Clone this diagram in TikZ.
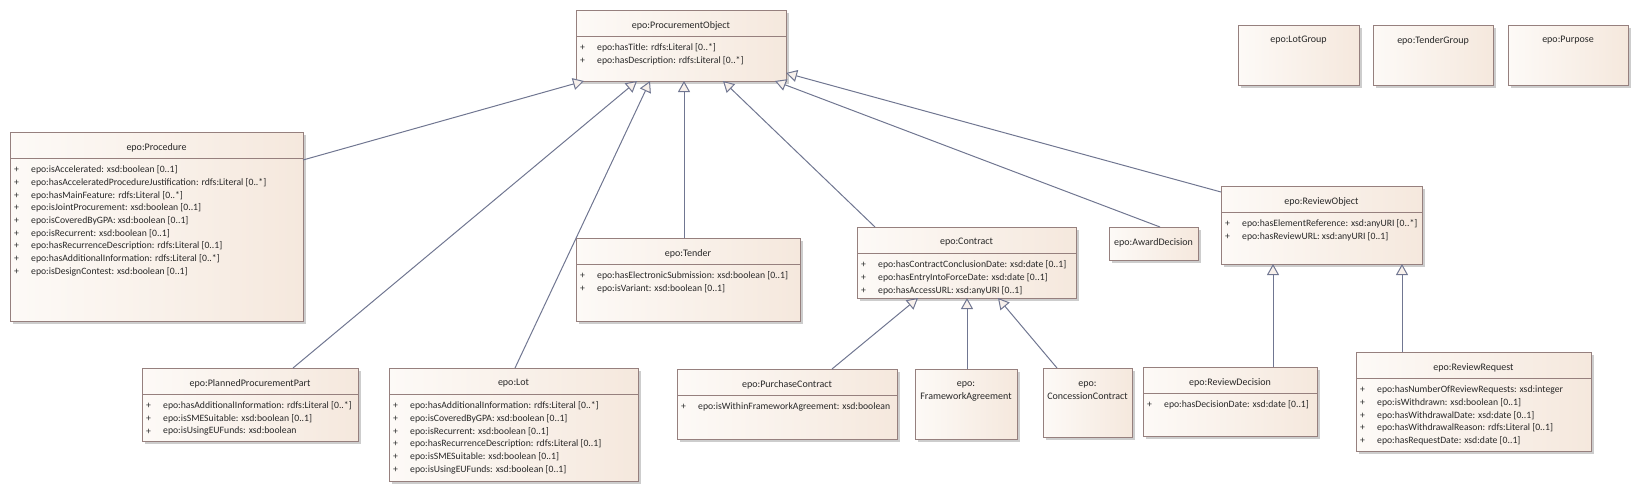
\documentclass[tikz,border=0pt]{standalone}
\usepackage{fontspec}
\setmainfont{Carlito}
\usetikzlibrary{arrows.meta,shadows}
\definecolor{bordc}{RGB}{150,128,126}
\definecolor{fillL}{RGB}{253,250,247}
\definecolor{fillR}{RGB}{245,232,221}
\definecolor{linec}{RGB}{112,118,145}
\definecolor{headf}{RGB}{248,241,236}
\definecolor{txtc}{RGB}{40,40,40}
\definecolor{shad}{RGB}{205,205,205}
\tikzset{
  clsbox/.style={rectangle, draw=bordc, line width=1pt, left color=fillL, right color=fillR,
    inner sep=0pt, outer sep=0pt, anchor=north west,
    drop shadow={shadow xshift=3pt, shadow yshift=-3pt, fill=shad, opacity=1}},
  ttl/.style={font=\fontsize{10}{13}\selectfont, text=txtc, inner sep=0pt, align=center},
  attr/.style={font=\fontsize{9.7}{11}\selectfont, text=txtc, inner sep=0pt, anchor=west},
  sepl/.style={draw=bordc, line width=1pt},
  gen/.style={draw=linec, line width=1pt, -{Triangle[length=11pt,width=12pt,fill=headf]}},
}
\newcommand\umlcls[6]{%
  \node[clsbox, minimum width={(#4-#2)*1pt}, minimum height={(#5-#3)*1pt}] (#1) at (#2,#3) {};
  \node[ttl] (#1-t) at ({(#2+#4)/2},{#3+15.5}) {#6};
}
\newcommand\umlsep[1]{%
  \draw[sepl] ([yshift=-26pt]#1.north west) -- ([yshift=-26pt]#1.north east);}
\newcommand\umlattrs[4]{%
  \foreach \a [count=\i] in {#4} {
    \node[attr] (#1-p\i) at ({#2+4},{#3+38+12.7*(\i-1)}) {+};
    \node[attr] (#1-a\i) at ({#2+21},{#3+38+12.7*(\i-1)}) {\a};
  }}
\begin{document}
\begin{tikzpicture}[x=1pt,y=-1pt]
\useasboundingbox (0,0) rectangle (1639,491);
% classes
\umlcls{po}{576}{10}{786}{81}{epo:ProcurementObject}
\umlsep{po}
\umlattrs{po}{576}{10}{{epo:hasTitle: rdfs:Literal [0..*]},{epo:hasDescription: rdfs:Literal [0..*]}}

\umlcls{lotgroup}{1238}{25}{1359}{85}{epo:LotGroup}
\umlcls{tendergroup}{1373}{25}{1493}{85}{epo:TenderGroup}
\umlcls{purpose}{1508}{25}{1628}{85}{epo:Purpose}

\umlcls{proc}{10}{132}{303}{321}{epo:Procedure}
\umlsep{proc}
\umlattrs{proc}{10}{132}{{epo:isAccelerated: xsd:boolean [0..1]},{epo:hasAcceleratedProcedureJustification: rdfs:Literal [0..*]},{epo:hasMainFeature: rdfs:Literal [0..*]},{epo:isJointProcurement: xsd:boolean [0..1]},{epo:isCoveredByGPA: xsd:boolean [0..1]},{epo:isRecurrent: xsd:boolean [0..1]},{epo:hasRecurrenceDescription: rdfs:Literal [0..1]},{epo:hasAdditionalInformation: rdfs:Literal [0..*]},{epo:isDesignContest: xsd:boolean [0..1]}}

\umlcls{tender}{576}{238}{800}{321}{epo:Tender}
\umlsep{tender}
\umlattrs{tender}{576}{238}{{epo:hasElectronicSubmission: xsd:boolean [0..1]},{epo:isVariant: xsd:boolean [0..1]}}

\umlcls{contract}{857}{227}{1076}{298}{epo:Contract}
\umlsep{contract}
\umlattrs{contract}{857}{227}{{epo:hasContractConclusionDate: xsd:date [0..1]},{epo:hasEntryIntoForceDate: xsd:date [0..1]},{epo:hasAccessURL: xsd:anyURI [0..1]}}

\umlcls{award}{1109}{227}{1198}{260}{epo:AwardDecision}

\umlcls{ro}{1221}{186}{1422}{264}{epo:ReviewObject}
\umlsep{ro}
\umlattrs{ro}{1221}{186}{{epo:hasElementReference: xsd:anyURI [0..*]},{epo:hasReviewURL: xsd:anyURI [0..1]}}

\umlcls{ppp}{142}{368}{358}{441}{epo:PlannedProcurementPart}
\umlsep{ppp}
\umlattrs{ppp}{142}{368}{{epo:hasAdditionalInformation: rdfs:Literal [0..*]},{epo:isSMESuitable: xsd:boolean [0..1]},{epo:isUsingEUFunds: xsd:boolean}}

\umlcls{lot}{389}{368}{638}{481}{epo:Lot}
\umlsep{lot}
\umlattrs{lot}{389}{368}{{epo:hasAdditionalInformation: rdfs:Literal [0..*]},{epo:isCoveredByGPA: xsd:boolean [0..1]},{epo:isRecurrent: xsd:boolean [0..1]},{epo:hasRecurrenceDescription: rdfs:Literal [0..1]},{epo:isSMESuitable: xsd:boolean [0..1]},{epo:isUsingEUFunds: xsd:boolean [0..1]}}

\umlcls{pc}{677}{369}{897}{439}{epo:PurchaseContract}
\umlsep{pc}
\umlattrs{pc}{677}{369}{{epo:isWithinFrameworkAgreement: xsd:boolean}}

\node[clsbox, minimum width=102pt, minimum height=70pt] (fa) at (915,369) {};
\node[ttl] (fa-t) at (966,391.5) {epo:\\FrameworkAgreement};
\node[clsbox, minimum width=89pt, minimum height=69pt] (cc) at (1043,368) {};
\node[ttl] (cc-t) at (1087.5,390.5) {epo:\\ConcessionContract};

\umlcls{rd}{1143}{367}{1317}{436}{epo:ReviewDecision}
\umlsep{rd}
\umlattrs{rd}{1143}{367}{{epo:hasDecisionDate: xsd:date [0..1]}}

\umlcls{rr}{1356}{352}{1591}{451}{epo:ReviewRequest}
\umlsep{rr}
\umlattrs{rr}{1356}{352}{{epo:hasNumberOfReviewRequests: xsd:integer},{epo:isWithdrawn: xsd:boolean [0..1]},{epo:hasWithdrawalDate: xsd:date [0..1]},{epo:hasWithdrawalReason: rdfs:Literal [0..1]},{epo:hasRequestDate: xsd:date [0..1]}}

% generalisations
\draw[gen] ([yshift=-28pt]proc.north east) -- ([xshift=8pt]po.south west);
\draw[gen] ([xshift=151pt]ppp.north west) -- ([xshift=61pt]po.south west);
\draw[gen] ([xshift=126pt]lot.north west) -- ([xshift=74pt]po.south west);
\draw[gen] ([xshift=108pt]tender.north west) -- ([xshift=108pt]po.south west);
\draw[gen] ([xshift=18pt]contract.north west) -- ([xshift=147pt]po.south west);
\draw[gen] ([xshift=51pt]award.north west) -- ([xshift=199pt]po.south west);
\draw[gen] ([yshift=-6pt]ro.north west) -- ([yshift=8pt]po.south east);
\draw[gen] ([xshift=155pt]pc.north west) -- ([xshift=61pt]contract.south west);
\draw[gen] ([xshift=52pt]fa.north west) -- ([xshift=110pt]contract.south west);
\draw[gen] ([xshift=14pt]cc.north west) -- ([xshift=141pt]contract.south west);
\draw[gen] ([xshift=130pt]rd.north west) -- ([xshift=52pt]ro.south west);
\draw[gen] ([xshift=46pt]rr.north west) -- ([xshift=181pt]ro.south west);
\end{tikzpicture}
\end{document}
